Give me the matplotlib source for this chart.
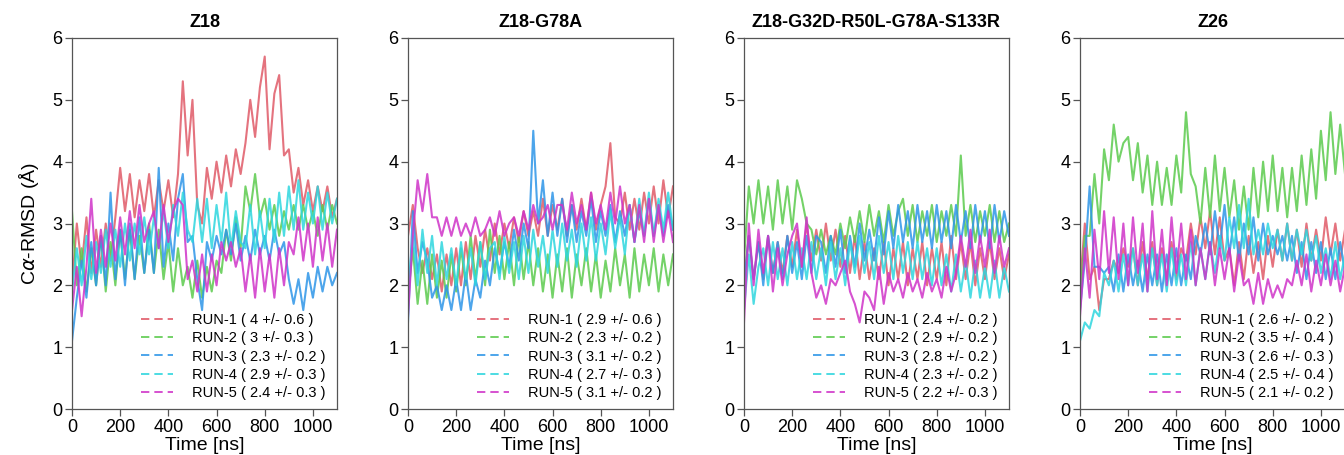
import numpy as np
import matplotlib
matplotlib.use("Agg")
import matplotlib.pyplot as plt
from matplotlib.lines import Line2D

plt.rcParams['font.family'] = ['Liberation Sans', 'DejaVu Sans']

TITLES = ["Z18", "Z18-G78A", "Z18-G32D-R50L-G78A-S133R", "Z26"]
RUNS = ["RUN-1", "RUN-2", "RUN-3", "RUN-4", "RUN-5"]
COLORS = ["#E05A68", "#5CCB4E", "#2E96E8", "#2ED6DE", "#CF34C8"]
STATS = [
    ["4 +/- 0.6", "3 +/- 0.3", "2.3 +/- 0.2", "2.9 +/- 0.3", "2.4 +/- 0.3"],
    ["2.9 +/- 0.6", "2.3 +/- 0.2", "3.1 +/- 0.2", "2.7 +/- 0.3", "3.1 +/- 0.2"],
    ["2.4 +/- 0.2", "2.9 +/- 0.2", "2.8 +/- 0.2", "2.3 +/- 0.2", "2.2 +/- 0.3"],
    ["2.6 +/- 0.2", "3.5 +/- 0.4", "2.6 +/- 0.3", "2.5 +/- 0.4", "2.1 +/- 0.2"],
]
T_END = 1100

# ---- Z18 ----
z18_run1 = [2.0, 3.0, 2.3, 3.1, 2.2, 2.9, 2.3, 3.0, 2.4, 3.1, 3.9, 3.2, 3.8, 3.1, 3.7, 3.2, 3.8, 3.1, 3.7, 3.2,
            3.7, 3.1, 3.8, 5.3, 4.1, 5.0, 3.3, 3.0, 3.9, 3.4, 4.0, 3.5, 4.1, 3.6, 4.2, 3.8, 4.3, 5.0, 4.4, 5.2,
            5.7, 4.2, 5.1, 5.4, 4.1, 4.2, 3.5, 3.9, 3.3, 3.7, 3.2, 3.6, 3.2, 3.6, 3.1, 3.4]
z18_run2 = [3.2, 2.0, 2.6, 1.9, 2.6, 2.0, 2.8, 1.9, 2.7, 2.0, 2.9, 2.1, 2.9, 2.1, 2.8, 2.2, 3.0, 2.2, 2.9, 2.1,
            2.7, 1.9, 2.6, 2.0, 2.3, 1.8, 2.4, 1.8, 2.3, 1.9, 2.4, 2.2, 2.9, 2.4, 3.1, 2.6, 3.6, 3.2, 3.8, 3.1,
            3.4, 2.9, 3.3, 2.8, 3.2, 2.9, 3.3, 2.9, 3.3, 2.9, 3.2, 2.8, 3.3, 2.9, 3.3, 3.0]
z18_run3 = [1.1, 1.8, 2.4, 1.8, 2.7, 2.0, 2.8, 2.0, 3.5, 2.1, 2.9, 2.0, 3.0, 2.1, 3.1, 2.2, 2.9, 2.2, 3.9, 2.3,
            3.0, 2.4, 3.4, 3.8, 2.7, 2.8, 2.1, 1.6, 2.7, 2.4, 2.8, 2.5, 2.9, 2.5, 3.0, 2.4, 2.8, 2.4, 2.9, 2.5,
            2.8, 2.4, 2.9, 2.5, 2.7, 2.1, 1.7, 2.1, 1.6, 2.2, 1.8, 2.3, 1.9, 2.3, 2.0, 2.2]
z18_run4 = [1.9, 2.6, 2.0, 2.8, 2.1, 2.7, 2.2, 2.9, 2.3, 2.9, 2.3, 3.0, 2.4, 3.0, 2.5, 3.1, 2.5, 3.1, 2.6, 3.2,
            2.6, 3.3, 2.8, 3.5, 2.9, 2.7, 3.4, 2.7, 3.4, 2.6, 3.3, 2.7, 3.5, 2.6, 3.2, 2.7, 2.6, 3.3, 2.5, 3.2,
            2.6, 3.4, 2.7, 3.5, 2.8, 3.6, 2.9, 3.7, 2.9, 3.5, 3.0, 3.6, 2.9, 3.5, 3.0, 3.4]
z18_run5 = [1.6, 2.3, 1.5, 2.3, 3.4, 2.2, 2.9, 2.3, 3.0, 2.4, 3.1, 2.5, 3.2, 2.6, 3.3, 2.7, 3.0, 3.2, 2.6, 3.3,
            2.7, 3.2, 3.4, 3.3, 2.1, 2.4, 1.9, 2.5, 1.9, 2.5, 2.0, 2.7, 2.4, 2.7, 2.3, 2.6, 1.9, 2.5, 1.8, 2.6,
            1.9, 2.5, 1.8, 2.6, 2.0, 2.7, 2.5, 3.1, 2.4, 3.0, 2.3, 3.1, 2.4, 3.0, 2.3, 2.9]

# ---- Z18-G78A ----
g78a_run1 = [2.8, 3.3, 2.6, 2.2, 2.6, 2.1, 2.5, 1.9, 2.5, 2.0, 2.6, 2.0, 2.7, 2.1, 2.8, 2.3, 2.9, 2.4, 3.0, 2.5,
             3.0, 2.6, 3.1, 2.7, 3.2, 2.8, 3.2, 2.8, 3.4, 2.8, 3.3, 2.9, 3.4, 2.8, 3.3, 2.9, 3.4, 2.9, 3.5, 2.9,
             3.3, 3.6, 4.3, 3.1, 3.0, 3.5, 2.9, 3.4, 2.9, 3.5, 3.0, 3.6, 3.0, 3.7, 3.1, 3.6]
g78a_run2 = [1.8, 2.6, 1.7, 2.4, 1.7, 2.5, 1.8, 2.4, 1.8, 2.5, 1.9, 2.6, 2.0, 2.8, 2.1, 2.7, 2.0, 2.9, 2.2, 2.8,
             2.1, 2.7, 2.0, 2.8, 2.1, 2.7, 2.0, 2.6, 1.9, 2.5, 1.8, 2.5, 1.9, 2.6, 1.8, 2.5, 2.0, 2.6, 1.9, 2.5,
             1.8, 2.4, 1.9, 2.6, 2.0, 2.5, 1.8, 2.6, 1.9, 2.5, 2.0, 2.6, 1.9, 2.5, 2.0, 2.5]
g78a_run3 = [1.4, 3.2, 2.2, 2.7, 2.4, 1.8, 2.0, 1.6, 2.0, 1.6, 2.1, 1.6, 2.2, 1.6, 2.1, 1.8, 2.4, 2.0, 2.6, 2.2,
             2.7, 2.3, 2.9, 2.4, 3.0, 2.6, 4.5, 3.0, 3.7, 2.8, 3.5, 2.8, 3.4, 2.7, 3.3, 2.7, 3.2, 2.8, 3.4, 2.7,
             3.2, 2.8, 3.3, 2.7, 3.2, 2.8, 3.3, 2.7, 3.2, 2.8, 3.4, 2.8, 3.3, 2.8, 3.3, 2.9]
g78a_run4 = [1.9, 2.8, 2.0, 2.9, 2.2, 2.8, 2.0, 2.7, 2.1, 2.6, 2.0, 2.7, 2.1, 2.6, 2.0, 2.7, 2.1, 2.6, 2.7, 2.1,
             2.8, 2.2, 2.7, 2.1, 2.8, 2.2, 2.9, 2.3, 2.8, 2.2, 2.9, 2.3, 3.0, 2.4, 2.9, 2.3, 3.0, 2.4, 3.1, 2.4,
             3.0, 2.5, 3.2, 2.6, 3.1, 2.5, 3.3, 2.7, 3.4, 2.8, 3.5, 2.8, 3.4, 2.9, 3.5, 2.9]
g78a_run5 = [1.5, 2.8, 3.7, 3.2, 3.8, 3.1, 3.1, 2.8, 3.1, 2.8, 3.1, 2.8, 3.0, 2.8, 3.1, 2.8, 2.9, 3.1, 2.8, 3.2,
             2.8, 3.0, 3.1, 2.8, 3.2, 2.9, 3.3, 3.0, 3.1, 3.3, 2.9, 3.3, 3.3, 2.9, 3.5, 3.0, 3.3, 2.9, 3.5, 3.0,
             3.3, 2.9, 3.5, 3.0, 3.6, 3.0, 3.3, 2.7, 3.3, 2.7, 3.4, 2.7, 3.3, 2.7, 3.2, 2.7]

# ---- Z18-G32D-R50L-G78A-S133R ----
mut_run1 = [2.1, 2.8, 2.1, 2.7, 2.1, 2.8, 2.2, 2.7, 2.2, 2.8, 2.3, 2.9, 2.3, 3.0, 2.4, 2.9, 2.4, 3.0, 2.4, 2.9,
            2.3, 2.8, 2.2, 2.8, 2.1, 2.7, 2.1, 2.6, 2.1, 2.7, 2.0, 2.6, 2.1, 2.7, 2.0, 2.6, 2.1, 2.7, 2.0, 2.6,
            2.1, 2.7, 2.0, 2.8, 2.1, 2.7, 2.1, 2.7, 2.0, 2.6, 2.1, 2.7, 2.1, 2.6, 2.1, 2.5]
mut_run2 = [2.4, 3.6, 3.0, 3.7, 3.0, 3.6, 2.9, 3.7, 3.0, 3.6, 2.9, 3.7, 3.4, 3.0, 2.9, 2.5, 2.9, 2.5, 2.8, 2.5,
            3.0, 2.6, 3.1, 2.7, 3.2, 2.7, 3.3, 2.8, 3.2, 2.7, 3.3, 2.8, 3.2, 3.4, 2.8, 3.3, 2.7, 3.2, 2.8, 3.3,
            2.7, 3.2, 2.8, 3.3, 2.8, 4.1, 2.8, 3.3, 2.7, 3.2, 2.8, 3.3, 2.7, 3.2, 2.7, 3.0]
mut_run3 = [2.0, 2.8, 2.1, 2.7, 2.0, 2.8, 2.2, 2.7, 2.1, 2.8, 2.2, 2.7, 2.1, 2.8, 2.2, 2.8, 2.7, 2.2, 2.8, 2.3,
            2.9, 2.2, 2.8, 2.3, 3.0, 2.4, 2.9, 2.4, 3.1, 2.5, 3.2, 2.6, 3.3, 2.7, 3.2, 2.6, 3.3, 2.7, 3.2, 2.6,
            3.3, 2.7, 3.2, 2.6, 3.3, 2.7, 3.2, 2.6, 3.3, 2.7, 3.2, 2.6, 3.3, 2.7, 3.2, 2.8]
mut_run4 = [1.6, 2.5, 1.7, 2.3, 2.6, 2.0, 2.7, 2.1, 2.6, 2.0, 2.7, 2.1, 2.6, 2.1, 2.7, 2.1, 2.6, 2.0, 2.7, 2.1,
            2.6, 2.0, 2.7, 2.2, 2.8, 2.2, 2.7, 2.1, 2.8, 2.2, 2.7, 2.1, 2.8, 2.2, 2.7, 2.1, 2.7, 2.1, 2.6, 2.0,
            2.6, 2.0, 2.5, 1.9, 2.5, 1.9, 2.4, 1.8, 2.4, 1.8, 2.3, 1.8, 2.4, 1.8, 2.3, 1.9]
mut_run5 = [1.4, 3.0, 2.0, 2.9, 2.2, 2.8, 1.9, 2.6, 2.0, 2.5, 2.8, 3.0, 2.3, 3.1, 2.2, 1.8, 2.0, 1.7, 2.1, 2.0,
            2.2, 2.4, 1.9, 1.7, 1.4, 1.9, 1.8, 1.6, 2.3, 1.7, 2.2, 1.9, 2.1, 1.8, 2.2, 1.9, 2.1, 1.8, 2.2, 1.9,
            2.1, 1.8, 2.3, 1.9, 2.2, 2.8, 2.3, 2.9, 2.2, 2.8, 2.3, 2.9, 2.2, 2.8, 2.3, 2.6]

# ---- Z26 ----
z26_run1 = [2.0, 3.0, 2.1, 2.3, 1.6, 2.1, 2.1, 2.4, 2.2, 2.6, 2.3, 2.6, 2.0, 2.7, 2.1, 2.7, 2.0, 2.6, 2.1, 2.7,
            2.1, 2.6, 2.4, 3.0, 2.5, 3.1, 2.6, 3.2, 2.5, 3.1, 2.4, 2.6, 2.0, 2.7, 2.1, 2.8, 2.2, 2.7, 2.1, 2.8,
            2.3, 2.9, 2.4, 3.0, 2.4, 2.9, 2.3, 3.0, 2.4, 2.9, 2.4, 3.1, 2.5, 3.0, 2.4, 2.9]
z26_run2 = [1.8, 2.8, 2.8, 3.8, 3.0, 4.2, 3.7, 4.6, 4.0, 4.3, 4.4, 3.7, 4.3, 3.5, 4.1, 3.3, 4.0, 3.3, 3.9, 3.3,
            4.1, 3.5, 4.8, 3.8, 3.6, 3.0, 3.9, 3.1, 4.1, 3.2, 3.9, 3.1, 3.7, 2.9, 3.6, 2.9, 3.9, 3.1, 4.0, 3.2,
            4.1, 3.2, 3.9, 3.1, 3.9, 3.2, 4.1, 3.3, 4.2, 3.4, 4.5, 3.7, 4.8, 3.8, 4.6, 3.8]
z26_run3 = [1.6, 2.4, 3.6, 2.3, 2.3, 2.2, 2.3, 1.9, 2.5, 1.9, 2.5, 2.0, 2.4, 1.9, 2.5, 2.0, 2.5, 1.9, 2.5, 2.0,
            2.6, 2.0, 2.5, 2.1, 2.8, 2.5, 3.0, 2.5, 3.2, 2.6, 3.3, 2.5, 3.1, 2.4, 3.0, 2.5, 3.1, 2.4, 3.0, 2.5,
            2.8, 2.5, 2.8, 2.4, 2.8, 2.2, 2.7, 2.1, 2.7, 2.2, 2.7, 2.1, 2.6, 2.1, 2.7, 2.2]
z26_run4 = [1.1, 1.4, 1.3, 1.6, 1.5, 2.2, 2.0, 2.4, 1.9, 2.5, 2.0, 2.6, 2.0, 2.5, 1.9, 2.6, 2.0, 2.5, 1.9, 2.6,
            2.0, 2.5, 2.0, 2.7, 2.0, 2.6, 2.1, 2.7, 2.2, 2.8, 2.4, 3.1, 2.6, 3.3, 2.6, 3.4, 2.5, 2.9, 2.5, 3.0,
            2.6, 2.9, 2.4, 3.0, 2.4, 2.9, 2.5, 2.9, 2.4, 2.8, 2.2, 2.6, 2.1, 2.7, 2.1, 2.5]
z26_run5 = [1.5, 2.6, 1.8, 2.9, 2.1, 3.2, 2.2, 3.1, 2.1, 3.0, 2.0, 3.1, 2.2, 3.0, 1.9, 3.2, 2.1, 2.9, 2.0, 3.1,
            2.2, 3.0, 2.1, 2.9, 2.0, 2.6, 2.1, 2.7, 2.0, 2.6, 2.1, 2.6, 1.9, 2.5, 2.0, 2.1, 1.7, 2.2, 1.7, 2.1,
            1.8, 2.0, 1.8, 2.1, 2.0, 2.4, 2.0, 2.5, 1.9, 2.4, 2.0, 2.5, 2.0, 2.4, 1.9, 2.3]

PANELS = [
    [z18_run1, z18_run2, z18_run3, z18_run4, z18_run5],
    [g78a_run1, g78a_run2, g78a_run3, g78a_run4, g78a_run5],
    [mut_run1, mut_run2, mut_run3, mut_run4, mut_run5],
    [z26_run1, z26_run2, z26_run3, z26_run4, z26_run5],
]

W, H = 1344, 455
fig = plt.figure(figsize=(W / 100, H / 100), dpi=100)

ax_left_px = [72, 408, 744, 1080]
ax_w_px, ax_bot_px, ax_h_px = 265, 46, 371

for i, (title, series) in enumerate(zip(TITLES, PANELS)):
    ax = fig.add_axes([ax_left_px[i] / W, ax_bot_px / H, ax_w_px / W, ax_h_px / H])
    for j, vals in enumerate(series):
        t = np.linspace(0, T_END, len(vals))
        ax.plot(t, vals, color=COLORS[j], lw=1.5, alpha=0.85,
                label=f"{RUNS[j]} ( {STATS[i][j]} )")
    ax.set_xlim(0, 1100)
    ax.set_ylim(0, 6)
    ax.set_xticks([0, 200, 400, 600, 800, 1000])
    ax.set_yticks([0, 1, 2, 3, 4, 5, 6])
    ax.tick_params(axis='both', direction='out', length=5, width=0.9,
                   labelsize=13, colors='#555555', labelcolor='black', pad=2)
    for sp in ax.spines.values():
        sp.set_color('#555555')
        sp.set_linewidth(0.9)
    ax.set_title(title, fontsize=13, fontweight='bold', pad=8)
    ax.set_xlabel("Time [ns]", fontsize=14, labelpad=1)
    if i == 0:
        ax.set_ylabel("C$\\alpha$-RMSD (Å)", fontsize=14, labelpad=8)
    labels = [f"{RUNS[j]} ( {STATS[i][j]} )" for j in range(5)]
    hs = [Line2D([0], [0], color=c, lw=1.2, ls=(0, (5, 3))) for c in COLORS]
    ax.legend(hs, labels, loc='lower right', bbox_to_anchor=(1.0, -0.008),
              frameon=False, fontsize=10.5, handlelength=2.2, handletextpad=1.3,
              labelspacing=0.3, borderpad=0.3)

fig.savefig("out.png", dpi=100)
